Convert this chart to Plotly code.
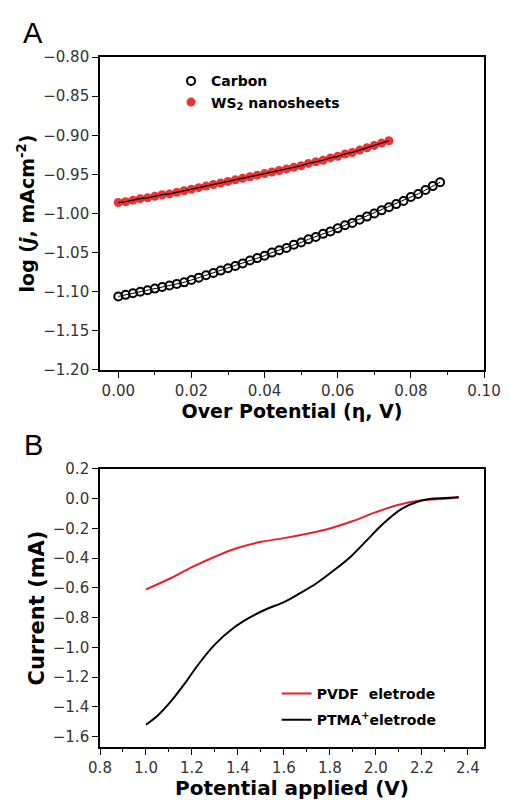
import plotly.graph_objects as go

# Panel A data
carbon_x = [0.000,0.002,0.004,0.006,0.008,0.010,0.012,0.014,0.016,0.018,0.020,0.022,0.024,0.026,0.028,0.030,
            0.032,0.034,0.036,0.038,0.040,0.042,0.044,0.046,0.048,0.050,0.052,0.054,0.056,0.058,0.060,0.062,
            0.064,0.066,0.068,0.070,0.072,0.074,0.076,0.078,0.080,0.082,0.084,0.086,0.088]
carbon_y = [-1.106,-1.104,-1.102,-1.100,-1.098,-1.096,-1.094,-1.092,-1.090,-1.088,-1.085,-1.082,-1.079,-1.076,
            -1.073,-1.070,-1.067,-1.064,-1.060,-1.057,-1.054,-1.050,-1.047,-1.044,-1.040,-1.037,-1.033,-1.030,
            -1.026,-1.023,-1.019,-1.015,-1.012,-1.008,-1.004,-1.000,-0.996,-0.992,-0.988,-0.984,-0.979,-0.975,
            -0.970,-0.965,-0.960]
ws2_x = [0.000,0.002,0.004,0.006,0.008,0.010,0.012,0.014,0.016,0.018,0.020,0.022,0.024,0.026,0.028,0.030,
         0.032,0.034,0.036,0.038,0.040,0.042,0.044,0.046,0.048,0.050,0.052,0.054,0.056,0.058,0.060,0.062,
         0.064,0.066,0.068,0.070,0.072,0.074]
ws2_y = [-0.986,-0.985,-0.983,-0.981,-0.980,-0.978,-0.976,-0.975,-0.973,-0.971,-0.969,-0.967,-0.965,-0.963,
         -0.961,-0.959,-0.957,-0.955,-0.953,-0.951,-0.949,-0.947,-0.945,-0.943,-0.941,-0.939,-0.936,-0.934,
         -0.932,-0.929,-0.927,-0.924,-0.922,-0.919,-0.916,-0.913,-0.910,-0.907]

# Panel B data
pvdf_v = [1.00,1.10,1.20,1.30,1.40,1.50,1.60,1.70,1.80,1.90,2.00,2.10,2.20,2.30,2.36]
pvdf_i = [-0.61,-0.54,-0.46,-0.39,-0.33,-0.29,-0.265,-0.235,-0.20,-0.15,-0.09,-0.04,-0.01,0.00,0.01]
ptma_v = [1.00,1.05,1.11,1.17,1.23,1.30,1.38,1.45,1.52,1.60,1.67,1.74,1.81,1.89,1.96,2.03,2.11,2.18,2.24,2.30,2.36]
ptma_i = [-1.52,-1.46,-1.36,-1.24,-1.11,-0.98,-0.87,-0.80,-0.745,-0.695,-0.635,-0.57,-0.49,-0.39,-0.28,-0.17,-0.07,-0.02,0.00,0.005,0.01]

LIB = "Liberation Sans, Arial, sans-serif"
DJV = "DejaVu Sans, sans-serif"
fig = go.Figure()

fig.add_trace(go.Scatter(x=carbon_x, y=carbon_y, mode="markers", name="Carbon",
                         marker=dict(symbol="circle-open", size=8, color="black", line=dict(width=2)),
                         xaxis="x", yaxis="y", legend="legend"))
fig.add_trace(go.Scatter(x=ws2_x, y=ws2_y, mode="markers", name="WS<sub>2</sub> nanosheets",
                         marker=dict(symbol="circle", size=9, color="rgba(235,30,30,0.9)"),
                         xaxis="x", yaxis="y", legend="legend"))
fig.add_trace(go.Scatter(x=ws2_x, y=ws2_y, mode="lines", showlegend=False,
                         line=dict(color="black", width=1.2), xaxis="x", yaxis="y"))
fig.add_trace(go.Scatter(x=carbon_x, y=carbon_y, mode="lines", showlegend=False,
                         line=dict(color="black", width=1.0), xaxis="x", yaxis="y"))

fig.add_trace(go.Scatter(x=pvdf_v, y=pvdf_i, mode="lines", name="PVDF  eletrode", legendgroup="g1",
                         line=dict(color="#e8202a", width=2, shape="spline"),
                         xaxis="x2", yaxis="y2", legend="legend2"))
fig.add_trace(go.Scatter(x=ptma_v, y=ptma_i, mode="lines", name="PTMA<sup>+</sup>eletrode", legendgroup="g2",
                         line=dict(color="black", width=2, shape="spline"),
                         xaxis="x2", yaxis="y2", legend="legend2"))

axis_common = dict(showline=True, linecolor="black", linewidth=1.6, mirror=True, ticks="outside",
                   ticklen=6, tickwidth=1.2, tickcolor="black", showgrid=False, zeroline=False,
                   automargin=False,
                   tickfont=dict(family=DJV, size=15, color="#333"))

fig.update_layout(
    width=510, height=800,
    margin=dict(l=100, r=26, t=57, b=53),
    paper_bgcolor="white", plot_bgcolor="white",
    xaxis=dict(**axis_common, domain=[0, 1], anchor="y", range=[-0.005, 0.10], dtick=0.02, tick0=0,
               tickformat=".2f", minor=dict(ticks="outside", ticklen=3, dtick=0.01, tickcolor="black"),
               title=dict(text="Over Potential (η, V)",
                          font=dict(family=DJV, size=19, color="black", weight="bold"), standoff=4)),
    yaxis=dict(**axis_common, domain=[0.5464, 1], anchor="x", range=[-1.20, -0.80], dtick=0.05,
               tickformat=".2f",
               title=dict(text="log (<i>j</i>, mAcm<sup>-2</sup>)",
                          font=dict(family=DJV, size=19, color="black", weight="bold"), standoff=4)),
    xaxis2=dict(**axis_common, domain=[0, 1], anchor="y2", range=[0.8, 2.47], dtick=0.2, tick0=0.8,
                tickformat=".1f", minor=dict(ticks="outside", ticklen=3, dtick=0.1, tickcolor="black"),
                title=dict(text="Potential applied (V)",
                           font=dict(family=DJV, size=20, color="black", weight="bold"), standoff=8)),
    yaxis2=dict(**axis_common, domain=[0, 0.4029], anchor="x2", range=[-1.67, 0.2], dtick=0.2, tick0=0,
                tickformat=".1f",
                title=dict(text="Current (mA)",
                           font=dict(family=DJV, size=21, color="black", weight="bold"), standoff=2)),
    legend=dict(x=0.185, y=0.988, xanchor="left", yanchor="top", bgcolor="rgba(0,0,0,0)",
                font=dict(family=DJV, size=14, color="black", weight="bold"), itemwidth=30, tracegroupgap=0),
    legend2=dict(x=0.46, y=0.10, xanchor="left", yanchor="top", bgcolor="rgba(0,0,0,0)",
                 font=dict(family=DJV, size=14, color="black", weight="bold"), itemwidth=30,
                 traceorder="grouped", tracegroupgap=5),
    annotations=[
        dict(text="A", x=33, y=33, xref="paper", yref="paper", showarrow=False,
             xanchor="center", yanchor="middle",
             font=dict(family=LIB, size=29, color="black")),
        dict(text="B", x=33, y=445, xref="paper", yref="paper", showarrow=False,
             xanchor="center", yanchor="middle",
             font=dict(family=LIB, size=29, color="black")),
    ],
)

# convert annotation pixel positions to paper coords
pw, ph = 510 - 100 - 26, 800 - 57 - 53
new_ann = []
for a in fig.layout.annotations:
    px, py = a.x, a.y
    a.x = (px - 100) / pw
    a.y = (800 - 53 - py) / ph
    new_ann.append(a)
fig.layout.annotations = new_ann

fig.write_html("out.html")
